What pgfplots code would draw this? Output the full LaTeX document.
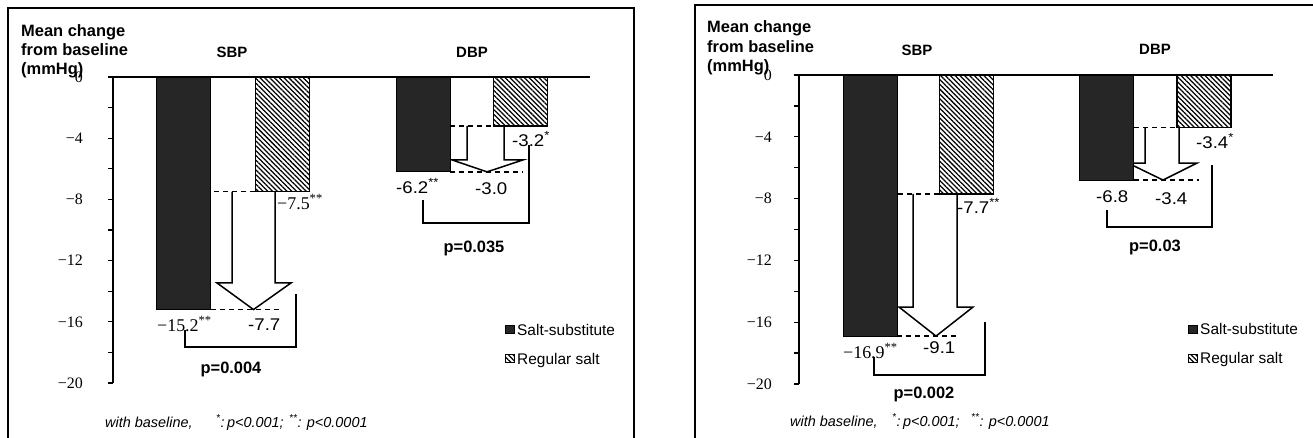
\documentclass[border=0pt]{standalone}
\usepackage{fontspec}
\setmainfont{Liberation Sans}
\newfontfamily\seriffont{Liberation Serif}
\newfontfamily\valfont[FakeStretch=1.1]{Liberation Sans}
\usepackage{pgfplots}
\pgfplotsset{compat=1.18}
\usetikzlibrary{patterns.meta}

\newcommand{\fMean}{\bfseries\fontsize{16.5}{19}\selectfont}
\newcommand{\fHead}{\bfseries\fontsize{15}{18}\selectfont}
\newcommand{\fP}{\bfseries\fontsize{16.5}{19}\selectfont}
\newcommand{\fVal}{\valfont\fontsize{17}{20}\selectfont}
\newcommand{\fSer}{\seriffont\fontsize{18}{20}\selectfont}
\newcommand{\fLeg}{\fontsize{15.5}{18}\selectfont}
\newcommand{\fNote}{\itshape\fontsize{14.5}{17}\selectfont}

\tikzset{
  hatch/.style={pattern={Lines[angle=-45,distance=3.4bp,line width=1.25bp]}, pattern color=black},
  dsh/.style={line width=1.3bp, dash pattern=on 5bp off 4bp},
  arr/.style={line width=1.5bp, fill=white, line join=miter},
  brk/.style={line width=1.4bp},
  tx/.style={anchor=base west, inner sep=0},
  tc/.style={anchor=base, inner sep=0},
}

\pgfplotsset{
  myax/.style={
    scale only axis, clip=false,
    axis x line*=top, axis y line*=left,
    axis line style={-, line width=1.6bp, black},
    xtick=\empty,
    ymin=-20, ymax=0,
    ytick={-20,-16,-12,-8,-4,0},
    yticklabels={−20,−16,−12,−8,−4,0},
    minor ytick={-18,-14,-10,-6,-2},
    tick align=outside,
    major tick length=5bp, minor tick length=5bp,
    tick style={black, line width=1.3bp},
    yticklabel style={font=\seriffont\fontsize{16}{18}\selectfont, inner sep=0pt},
  },
  saltsub/.style={ybar, bar width=54, bar shift=0pt, fill=black!85, draw=black, line width=1bp},
  regsalt/.style={ybar, bar width=54, bar shift=0pt, draw=black, line width=1.2bp, hatch},
}

\begin{document}
\begin{tikzpicture}
\useasboundingbox (0,0) rectangle (1313bp,-438bp);

% ---------------- Left panel ----------------
\begin{axis}[myax, at={(113bp,-383bp)}, anchor=south west,
  width=477bp, height=306bp, xmin=113, xmax=590,
  yticklabel style={xshift=-25bp}]
  \draw[arr] (axis cs:232,-7.5) -- (axis cs:232,-13.46) -- (axis cs:217,-13.46)
     -- (axis cs:253.5,-15.2) -- (axis cs:291,-13.46) -- (axis cs:275,-13.46) -- (axis cs:275,-7.5);
  \draw[arr] (axis cs:467,-3.2) -- (axis cs:467,-5.42) -- (axis cs:452,-5.42)
     -- (axis cs:487,-6.2) -- (axis cs:523,-5.42) -- (axis cs:504,-5.42) -- (axis cs:504,-3.2);
  \addplot[saltsub] coordinates {(183.5,-15.2) (423,-6.2)};
  \addplot[regsalt] coordinates {(282.5,-7.5) (520.5,-3.2)};
  \draw[dsh] (axis cs:214,-7.5) -- (axis cs:256,-7.5);
  \draw[dsh] (axis cs:211,-15.2) -- (axis cs:280,-15.2);
  \draw[dsh] (axis cs:450,-3.2) -- (axis cs:493,-3.2);
  \draw[dsh] (axis cs:450,-6.2) -- (axis cs:523,-6.2);
\end{axis}

% ---------------- Right panel ----------------
\begin{axis}[myax, at={(799bp,-384bp)}, anchor=south west,
  width=474bp, height=309bp, xmin=799, xmax=1273,
  yticklabel style={xshift=-22bp}]
  \draw[arr] (axis cs:913,-7.7) -- (axis cs:913,-15.02) -- (axis cs:899,-15.02)
     -- (axis cs:936,-16.9) -- (axis cs:973,-15.02) -- (axis cs:957,-15.02) -- (axis cs:957,-7.7);
  \draw[arr] (axis cs:1145,-3.4) -- (axis cs:1145,-5.70) -- (axis cs:1128,-5.70)
     -- (axis cs:1163,-6.8) -- (axis cs:1197,-5.70) -- (axis cs:1179,-5.70) -- (axis cs:1179,-3.4);
  \addplot[saltsub] coordinates {(870,-16.9) (1106.5,-6.8)};
  \addplot[regsalt] coordinates {(966.5,-7.7) (1204,-3.4)};
  \draw[dsh] (axis cs:898,-7.7) -- (axis cs:939,-7.7);
  \draw[dsh] (axis cs:897,-16.9) -- (axis cs:958,-16.9);
  \draw[dsh] (axis cs:1134,-3.4) -- (axis cs:1177,-3.4);
  \draw[dsh] (axis cs:1134,-6.8) -- (axis cs:1199,-6.8);
\end{axis}

\begin{scope}[x=1bp,y=-1bp]
  % frames
  \draw[line width=1.8bp] (8,438) -- (8,8) -- (634,8) -- (634,438);
  \draw[line width=1.8bp] (695,438) -- (695,5) -- (1313,5);

  % ---- left texts
  \node[tx, font=\fMean] at (21,36) {Mean change};
  \node[tx, font=\fMean] at (21,55) {from baseline};
  \node[tx, font=\fMean] at (21,74) {(mmHg)};
  \node[tc, font=\fHead] at (232,57) {SBP};
  \node[tc, font=\fHead] at (472,57) {DBP};

  \node[tx, font=\fSer] at (277,209) {−7.5\textsuperscript{**}};
  \node[tx, font=\fSer] at (157,331) {−15.2\textsuperscript{**}};
  \node[tx, font=\fVal] at (248,330) {-7.7};
  \node[tx, font=\fVal] at (512,146) {-3.2\textsuperscript{*}};
  \node[tx, font=\fVal] at (396,193) {-6.2\textsuperscript{**}};
  \node[tx, font=\fVal] at (475,194) {-3.0};

  \draw[brk] (185,330) -- (185,347) -- (296,347) -- (296,294);
  \draw[brk] (423,200) -- (423,223) -- (529,223) -- (529,145);
  \node[tc, font=\fP] at (231,373) {p=0.004};
  \node[tc, font=\fP] at (474,252) {p=0.035};

  \draw[line width=1bp, fill=black!85] (505,325) rectangle (514,333);
  \draw[line width=1bp, hatch] (505,354) rectangle (514,362);
  \node[tx, font=\fLeg] at (517,335) {Salt-substitute};
  \node[tx, font=\fLeg] at (517,364) {Regular salt};
  \node[tx, font=\fNote] at (105,427) {with baseline,};
  \node[tx, font=\fNote] at (216,427) {\textsuperscript{*}:\,p<0.001;};
  \node[tx, font=\fNote] at (289,427) {\textsuperscript{**}: p<0.0001};

  % ---- right texts
  \node[tx, font=\fMean] at (707,32) {Mean change};
  \node[tx, font=\fMean] at (707,52) {from baseline};
  \node[tx, font=\fMean] at (707,71) {(mmHg)};
  \node[tc, font=\fHead] at (917,55) {SBP};
  \node[tc, font=\fHead] at (1155,54) {DBP};

  \node[tx, font=\fVal] at (957,213) {-7.7\textsuperscript{**}};
  \node[tx, font=\fSer] at (843,358) {−16.9\textsuperscript{**}};
  \node[tx, font=\fVal] at (923,353) {-9.1};
  \node[tx, font=\fVal] at (1196,148) {-3.4\textsuperscript{*}};
  \node[tx, font=\fVal] at (1096,202) {-6.8};
  \node[tx, font=\fVal] at (1155,204) {-3.4};

  \draw[brk] (874,357) -- (874,375) -- (985,375) -- (985,322);
  \draw[brk] (1107,210) -- (1107,227) -- (1212,227) -- (1212,165);
  \node[tc, font=\fP] at (924,398) {p=0.002};
  \node[tc, font=\fP] at (1155,251) {p=0.03};

  \draw[line width=1bp, fill=black!85] (1188,325) rectangle (1197,333);
  \draw[line width=1bp, hatch] (1188,354) rectangle (1197,362);
  \node[tx, font=\fLeg] at (1200,334) {Salt-substitute};
  \node[tx, font=\fLeg] at (1200,363) {Regular salt};
  \node[tx, font=\fNote] at (790,426) {with baseline,};
  \node[tx, font=\fNote] at (892,426) {\textsuperscript{*}:\,p<0.001;};
  \node[tx, font=\fNote] at (971,426) {\textsuperscript{**}: p<0.0001};
\end{scope}
\end{tikzpicture}
\end{document}
